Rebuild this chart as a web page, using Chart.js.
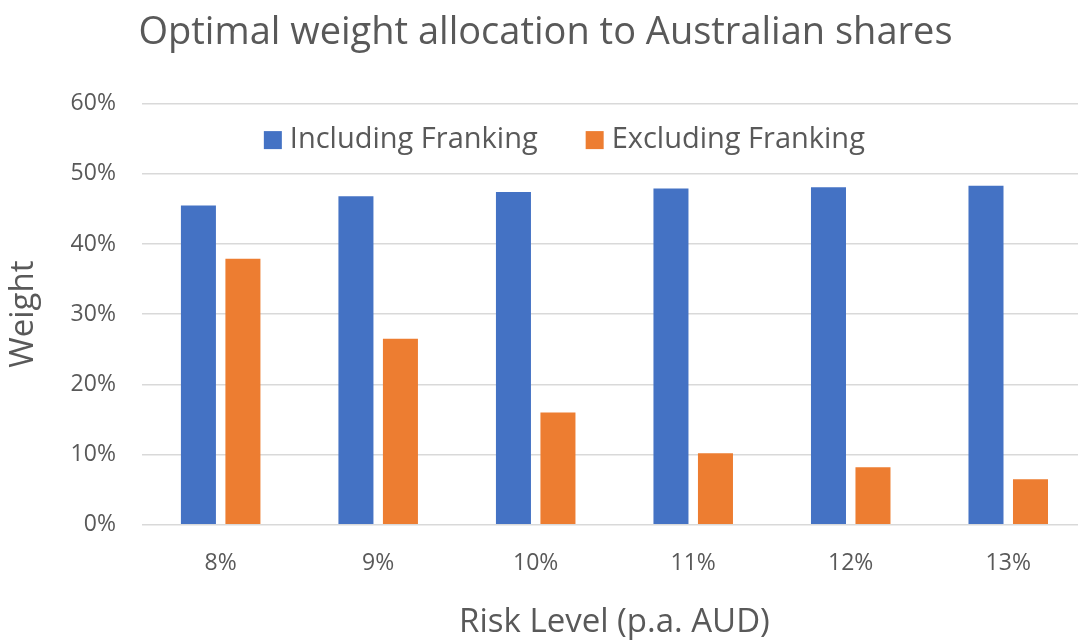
<!DOCTYPE html>
<html>
<head>
<meta charset="utf-8">
<script src="https://cdn.jsdelivr.net/npm/chart.js@4/dist/chart.umd.min.js"></script>
<style>
  html, body { margin: 0; padding: 0; background: #ffffff; overflow: hidden; }
  #wrap { width: 1092px; height: 642px; position: relative; }
</style>
</head>
<body>
<div id="wrap"><canvas id="chart"></canvas></div>
<script>
// Risk levels (p.a. AUD) along the x axis
const riskLevels = ['8%', '9%', '10%', '11%', '12%', '13%'];
// Optimal weight in Australian shares, in percent
const includingFranking = [45.5, 46.8, 47.4, 47.9, 48.1, 48.3];
const excludingFranking = [37.9, 26.5, 16.0, 10.2, 8.2, 6.5];
// Value-axis tick marks, in percent
const weightTicks = [0, 10, 20, 30, 40, 50, 60];

const TEXT = '#595959';
const FONT = "'Open Sans', 'Noto Sans', sans-serif";

// Legend drawn as one row inside the top band of the plot area
const inPlotLegend = {
  id: 'inPlotLegend',
  afterDraw(chart) {
    const ctx = chart.ctx;
    const area = chart.chartArea;
    const fontSize = 29;
    const box = 18, boxGap = 8, itemGap = 48;
    ctx.save();
    ctx.font = fontSize + 'px ' + FONT;
    const items = chart.data.datasets.map(ds => ({
      label: ds.label, color: ds.backgroundColor, w: ctx.measureText(ds.label).width
    }));
    const total = items.reduce((s, it) => s + box + boxGap + it.w, 0) + itemGap * (items.length - 1);
    const centerX = area.left + (area.right - area.left) * 0.447;
    const yMid = area.top + (chart.scales.y.getPixelForValue(50) - area.top) * 0.52;
    let x = centerX - total / 2;
    ctx.textBaseline = 'middle';
    ctx.textAlign = 'left';
    items.forEach(it => {
      ctx.fillStyle = it.color;
      ctx.fillRect(x, yMid - box / 2, box, box);
      ctx.fillStyle = TEXT;
      ctx.fillText(it.label, x + box + boxGap, yMid);
      x += box + boxGap + it.w + itemGap;
    });
    ctx.restore();
  }
};

new Chart(document.getElementById('chart'), {
  type: 'bar',
  data: {
    labels: riskLevels,
    datasets: [
      {
        label: 'Including Franking',
        data: includingFranking,
        backgroundColor: '#4472C4',
        categoryPercentage: 0.565,
        barPercentage: 0.787
      },
      {
        label: 'Excluding Franking',
        data: excludingFranking,
        backgroundColor: '#ED7D31',
        categoryPercentage: 0.565,
        barPercentage: 0.787
      }
    ]
  },
  plugins: [inPlotLegend],
  options: {
    responsive: true,
    maintainAspectRatio: false,
    animation: false,
    layout: { padding: { left: 4, right: 5, top: 8, bottom: 0 } },
    plugins: {
      title: {
        display: true,
        text: 'Optimal weight allocation to Australian shares',
        color: TEXT,
        font: { family: FONT, size: 38, weight: 'normal' },
        padding: { top: 2, bottom: 48 }
      },
      legend: { display: false },
      tooltip: { enabled: false }
    },
    scales: {
      x: {
        grid: { display: false },
        border: { display: false },
        ticks: {
          color: TEXT,
          font: { family: FONT, size: 23 },
          padding: 17
        },
        title: {
          display: true,
          text: 'Risk Level (p.a. AUD)',
          color: TEXT,
          font: { family: FONT, size: 33 },
          padding: { top: 8, bottom: 0 }
        }
      },
      y: {
        min: 0,
        max: 60,
        afterBuildTicks: (axis) => { axis.ticks = weightTicks.map(v => ({ value: v })); },
        grid: { color: '#D9D9D9', lineWidth: 1.5, drawTicks: false },
        border: { display: false },
        ticks: {
          color: TEXT,
          font: { family: FONT, size: 23 },
          padding: 26,
          callback: (v) => v + '%'
        },
        title: {
          display: true,
          text: 'Weight',
          color: TEXT,
          font: { family: FONT, size: 33 },
          padding: { top: 0, bottom: 1 }
        }
      }
    }
  }
});
</script>
</body>
</html>
